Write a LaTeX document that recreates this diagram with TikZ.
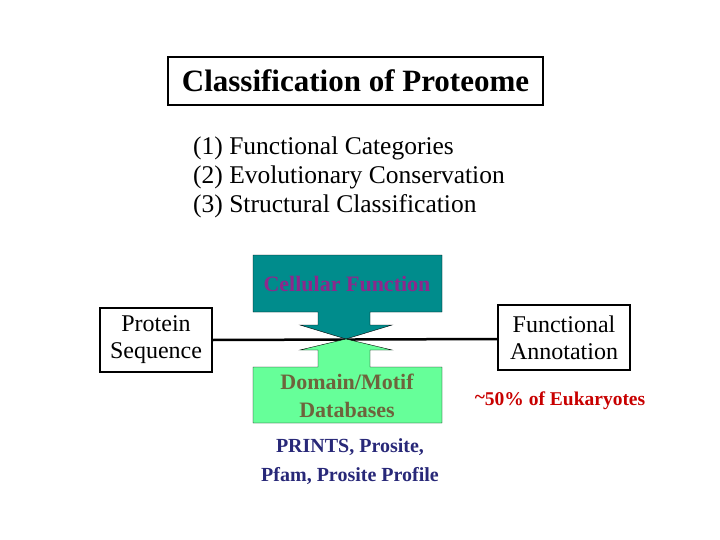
\documentclass[tikz,border=0pt]{standalone}
\usepackage{fontspec}
\setmainfont{Liberation Serif}
\definecolor{tealc}{RGB}{0,140,140}
\definecolor{greenc}{RGB}{102,255,153}
\definecolor{purp}{RGB}{140,40,140}
\definecolor{olive}{RGB}{110,100,60}
\definecolor{navy}{RGB}{40,40,120}
\definecolor{redc}{RGB}{200,0,0}
\begin{document}
\begin{tikzpicture}[x=1pt,y=-1pt,
  bx/.style={draw=black,line width=2pt,fill=white,inner sep=0pt,align=center},
  txt/.style={font=\fontsize{24}{27}\selectfont,align=center,inner sep=0pt}]
\useasboundingbox (0,0) rectangle (720,540);
\node[bx,minimum width=375,minimum height=48,font=\fontsize{31}{34}\selectfont\bfseries] (title) at (355.5,81) {Classification of Proteome};
\node[txt,anchor=west,align=left,font=\fontsize{25.5}{29}\selectfont] (list) at (193,177) {(1) Functional Categories\\(2) Evolutionary Conservation\\(3) Structural Classification};
\coordinate (tip) at (346,339);
\node[bx,minimum width=112,minimum height=64,txt] (ps) at (156,340) {Protein\\Sequence};
\node[bx,minimum width=132,minimum height=65,txt] (fa) at (564,337.5) {Functional\\Annotation};
\draw[line width=2.5pt] (ps.east) -- (fa.west |- tip);
\fill[tealc,draw=black,line width=0.4pt] (253,255) -- (442,255) -- (442,312) -- (370,312) -- (370,325) -- (392,325) -- (tip) -- (300,325) -- (318,325) -- (318,312) -- (253,312) -- cycle;
\fill[greenc,draw=black,line width=0.4pt] (253,423) -- (442,423) -- (442,367) -- (370,367) -- (370,350) -- (392,350) -- (tip) -- (300,350) -- (318,350) -- (318,367) -- (253,367) -- cycle;
\node[txt,text=purp,font=\fontsize{22}{26}\selectfont\bfseries] (cf) at (347,284) {Cellular Function};
\node[txt,text=olive,font=\fontsize{22}{28}\selectfont\bfseries] (dm) at (347,396) {Domain/Motif\\Databases};
\node[txt,text=navy,font=\fontsize{20}{29}\selectfont\bfseries] (pr) at (350,462) {PRINTS, Prosite,\\Pfam, Prosite Profile};
\node[txt,text=redc,font=\fontsize{19.5}{22}\selectfont\bfseries] (eu) at (560,401) {\raisebox{0.3ex}{\textasciitilde}50\% of Eukaryotes};
\end{tikzpicture}
\end{document}
